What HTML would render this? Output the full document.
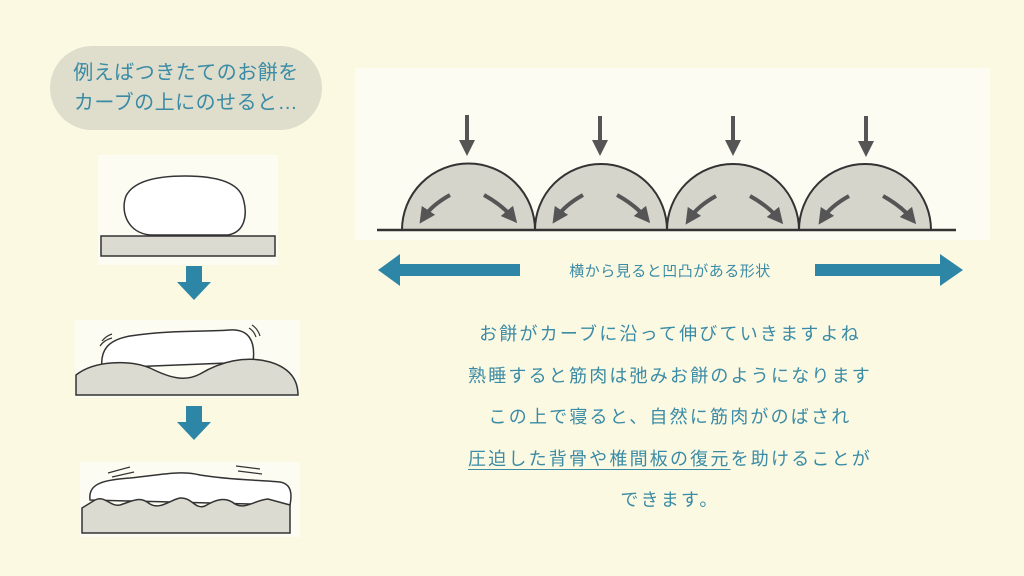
<!DOCTYPE html>
<html><head><meta charset="utf-8"><style>
html,body{margin:0;padding:0;background:#fcf9e3;}
body{width:1024px;height:576px;overflow:hidden;position:relative;font-family:"Liberation Sans","Noto Sans CJK JP",sans-serif;}
.bub{position:absolute;left:50px;top:46px;width:272px;height:84px;border-radius:42px;background:#dfddcc;color:#3a8ba5;font-size:20px;line-height:30px;text-align:center;padding-top:12px;box-sizing:border-box;letter-spacing:0.5px;}
.txt{position:absolute;left:440px;top:314px;width:460px;text-align:center;color:#3a8ba5;font-size:18px;letter-spacing:2.2px;line-height:41.5px;}
.txt u{text-decoration-thickness:1px;text-underline-offset:4px;}
.lab{position:absolute;left:530px;top:260px;width:280px;text-align:center;color:#3a8ba5;font-size:15px;letter-spacing:0.5px;}
svg{position:absolute;left:0;top:0;}
</style></head><body>
<svg width="1024" height="576">
<defs><marker id="ah" markerWidth="4" markerHeight="4" refX="2" refY="2" orient="auto"><path d="M0,0 L4,2 L0,4z" fill="#555"/></marker></defs>
<rect x="98" y="155" width="180" height="110" fill="#fdfcf2"/>
<rect x="75" y="320" width="225" height="78" fill="#fdfcf2"/>
<rect x="80" y="462" width="220" height="75" fill="#fdfcf2"/>
<rect x="355" y="68" width="635" height="172" fill="#fdfcf2"/>
<!-- panel1 -->
<rect x="101" y="236" width="174" height="20" fill="#dcdbd2" stroke="#333" stroke-width="1.5"/>
<path d="M150,235 C128,233 120,212 126,196 C134,180 160,176 185,176 C215,176 238,182 243,198 C248,215 245,232 228,235 Z" fill="#fff" stroke="#333" stroke-width="1.5"/>
<rect x="186" y="266" width="16" height="16" fill="#2e86a6"/><path d="M177,282 L211,282 L194,300Z" fill="#2e86a6"/>
<rect x="186" y="406" width="16" height="16" fill="#2e86a6"/><path d="M177,422 L211,422 L194,440Z" fill="#2e86a6"/>
<!-- panel2 -->
<path d="M102,368 C100,350 108,340 130,336 C170,330 200,332 230,330 C248,329 256,340 253,362 Z" fill="#fff" stroke="#333" stroke-width="1.5"/>
<path d="M76,395 L76,375 C95,360 130,360 150,368 C170,378 185,382 200,374 C220,362 245,355 270,362 C290,368 298,380 298,395 Z" fill="#dcdbd2" stroke="#333" stroke-width="1.5"/>
<path d="M102,341 q4,-5 10,-7 M100,346 q4,-6 12,-8 M249,328 q5,3 7,9 M252,325 q6,4 8,11" stroke="#333" fill="none" stroke-width="1.2"/>
<!-- panel3 -->
<path d="M90,500 C88,485 100,480 130,478 C160,475 180,470 200,475 C230,480 260,480 280,482 C292,484 292,495 290,505 Z" fill="#fff" stroke="#333" stroke-width="1.5"/>
<path d="M82,533 L82,508 L95,500 C105,495 110,507 120,505 C135,500 140,496 150,504 C160,510 170,500 180,498 C192,497 195,510 205,506 C215,500 225,496 235,504 C245,510 255,500 268,499 L290,505 L290,533 Z" fill="#dcdbd2" stroke="#333" stroke-width="1.5"/>
<path d="M108,473 l22,-6 M112,477 l22,-5 M236,466 l24,3 M238,471 l24,3" stroke="#333" stroke-width="1.2"/>
<!-- domes -->
<g fill="#d6d5cc" stroke="#333" stroke-width="2">
<path d="M402,230 A66,66 0 0 1 535,230Z"/><path d="M535,230 A66,66 0 0 1 667,230Z"/>
<path d="M667,230 A66,66 0 0 1 799,230Z"/><path d="M799,230 A66,66 0 0 1 931,230Z"/>
</g>
<line x1="377" y1="230" x2="956" y2="230" stroke="#333" stroke-width="2.5"/>
<g stroke="#555" stroke-width="4" fill="none" marker-end="url(#ah)">
<line x1="467" y1="115" x2="467" y2="148"/><line x1="600" y1="116" x2="600" y2="148"/><line x1="733" y1="116" x2="733" y2="148"/><line x1="866" y1="116" x2="866" y2="149"/>
<path d="M450,195 Q432,205 424,217"/><path d="M484,195 Q502,205 512,217"/>
<path d="M583,195 Q565,205 557,217"/><path d="M617,195 Q635,205 645,217"/>
<path d="M716,196 Q698,206 690,218"/><path d="M750,196 Q768,206 778,218"/>
<path d="M849,196 Q831,206 823,218"/><path d="M883,196 Q901,206 911,218"/>
</g>
<rect x="398" y="264" width="122" height="12" fill="#2e86a6"/><path d="M378,270 L400,254 L400,286Z" fill="#2e86a6"/>
<rect x="815" y="264" width="127" height="12" fill="#2e86a6"/><path d="M963,270 L940,254 L940,286Z" fill="#2e86a6"/>
</svg>
<div class="bub">例えばつきたてのお餅を<br>カーブの上にのせると…</div>
<div class="lab">横から見ると凹凸がある形状</div>
<div class="txt">お餅がカーブに沿って伸びていきますよね<br>熟睡すると筋肉は弛みお餅のようになります<br>この上で寝ると、自然に筋肉がのばされ<br><u>圧迫した背骨や椎間板の復元</u>を助けることが<br>できます。</div>
</body></html>
